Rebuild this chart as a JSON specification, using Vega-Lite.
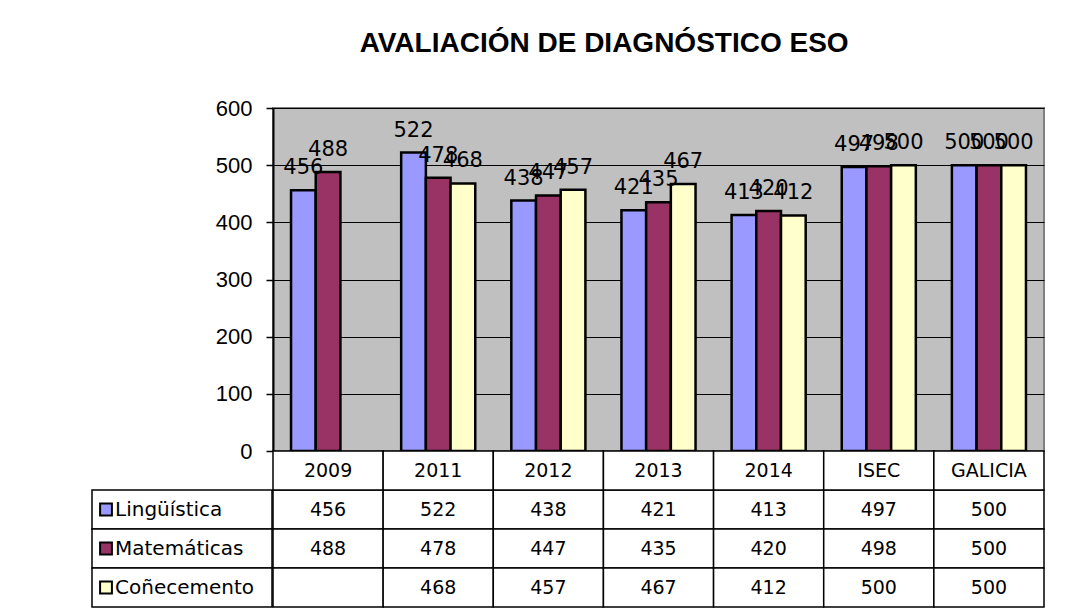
{
  "$schema": "https://vega.github.io/schema/vega-lite/v6.json",
  "padding": {"left": 91, "top": 30, "right": 20, "bottom": 3},
  "background": "white",
  "title": {"text": "AVALIACIÓN DE DIAGNÓSTICO ESO", "font": "Liberation Sans", "fontSize": 28, "fontWeight": "bold", "color": "black", "anchor": "middle", "dx": 36, "offset": 38},
  "config": {"view": {"stroke": null}, "font": "DejaVu Sans"},
  "datasets": {
    "scores": [
      {"cat": "2009", "series": "Lingüística", "value": 456},
      {"cat": "2009", "series": "Matemáticas", "value": 488},
      {"cat": "2009", "series": "Coñecemento", "value": null},
      {"cat": "2011", "series": "Lingüística", "value": 522},
      {"cat": "2011", "series": "Matemáticas", "value": 478},
      {"cat": "2011", "series": "Coñecemento", "value": 468},
      {"cat": "2012", "series": "Lingüística", "value": 438},
      {"cat": "2012", "series": "Matemáticas", "value": 447},
      {"cat": "2012", "series": "Coñecemento", "value": 457},
      {"cat": "2013", "series": "Lingüística", "value": 421},
      {"cat": "2013", "series": "Matemáticas", "value": 435},
      {"cat": "2013", "series": "Coñecemento", "value": 467},
      {"cat": "2014", "series": "Lingüística", "value": 413},
      {"cat": "2014", "series": "Matemáticas", "value": 420},
      {"cat": "2014", "series": "Coñecemento", "value": 412},
      {"cat": "ISEC", "series": "Lingüística", "value": 497},
      {"cat": "ISEC", "series": "Matemáticas", "value": 498},
      {"cat": "ISEC", "series": "Coñecemento", "value": 500},
      {"cat": "GALICIA", "series": "Lingüística", "value": 500},
      {"cat": "GALICIA", "series": "Matemáticas", "value": 500},
      {"cat": "GALICIA", "series": "Coñecemento", "value": 500}
    ],
    "cats": [
      {"cat": "2009"}, {"cat": "2011"}, {"cat": "2012"}, {"cat": "2013"}, {"cat": "2014"}, {"cat": "ISEC"}, {"cat": "GALICIA"}
    ],
    "series": [
      {"series": "Lingüística"}, {"series": "Matemáticas"}, {"series": "Coñecemento"}
    ]
  },
  "spacing": -62,
  "resolve": {"scale": {"x": "independent", "y": "independent"}},
  "hconcat": [
    {
      "spacing": 0,
      "resolve": {"scale": {"x": "independent", "y": "independent"}},
      "vconcat": [
        {"width": 180, "height": 343, "data": {"values": []}, "mark": "point"},
        {
          "width": 180,
          "height": 156,
          "data": {"name": "series"},
          "layer": [
            {"mark": {"type": "rect", "fill": "white", "stroke": "black", "strokeWidth": 1.5},
              "encoding": {"y": {"field": "series", "type": "nominal", "scale": {"domain": ["header", "Lingüística", "Matemáticas", "Coñecemento"], "paddingInner": 0, "paddingOuter": 0}, "axis": null}}},
            {"mark": {"type": "point", "shape": "square", "size": 140, "filled": true, "stroke": "black", "strokeWidth": 2, "opacity": 1, "xOffset": 14},
              "encoding": {
                "x": {"datum": 0, "type": "quantitative", "scale": {"domain": [0, 1]}, "axis": null},
                "y": {"field": "series", "type": "nominal", "scale": {"domain": ["header", "Lingüística", "Matemáticas", "Coñecemento"], "paddingInner": 0, "paddingOuter": 0}, "axis": null},
                "color": {"field": "series", "type": "nominal", "scale": {"domain": ["Lingüística", "Matemáticas", "Coñecemento"], "range": ["#9999ff", "#993366", "#ffffcc"]}, "legend": null}}},
            {"mark": {"type": "text", "align": "left", "dx": 23, "fontSize": 20, "font": "DejaVu Sans", "color": "black"},
              "encoding": {
                "x": {"datum": 0, "type": "quantitative", "scale": {"domain": [0, 1]}, "axis": null},
                "y": {"field": "series", "type": "nominal", "scale": {"domain": ["header", "Lingüística", "Matemáticas", "Coñecemento"], "paddingInner": 0, "paddingOuter": 0}, "axis": null},
                "text": {"field": "series", "type": "nominal"}}}
          ]
        }
      ]
    },
    {
      "spacing": 0,
      "bounds": "flush",
      "resolve": {"scale": {"x": "independent", "y": "independent"}},
      "vconcat": [
        {
          "width": 771,
          "height": 343,
          "view": {"fill": "#c0c0c0", "stroke": "#808080", "strokeWidth": 2},
          "data": {"name": "scores"},
          "transform": [{"filter": {"field": "value", "valid": true}}],
          "encoding": {
            "x": {"field": "cat", "type": "nominal", "scale": {"domain": ["2009", "2011", "2012", "2013", "2014", "ISEC", "GALICIA"], "paddingInner": 0, "paddingOuter": 0}, "axis": null},
            "xOffset": {"field": "series", "type": "nominal", "scale": {"domain": ["Lingüística", "Matemáticas", "Coñecemento"], "paddingInner": 0, "paddingOuter": 0.73}},
            "y": {"field": "value", "type": "quantitative", "scale": {"domain": [0, 600], "nice": false},
              "axis": {"values": [0, 100, 200, 300, 400, 500, 600], "title": null, "grid": true, "gridColor": "black", "gridWidth": 1, "gridOpacity": 1,
                "domainColor": "black", "domainWidth": 2, "tickColor": "black", "tickSize": 7, "tickWidth": 1.5,
                "labelFont": "Liberation Sans", "labelFontSize": 22, "labelColor": "black", "labelPadding": 14,
                "minExtent": 60, "maxExtent": 60}}
          },
          "layer": [
            {"mark": {"type": "bar", "stroke": "black", "strokeWidth": 2.5},
              "encoding": {"color": {"field": "series", "type": "nominal", "scale": {"domain": ["Lingüística", "Matemáticas", "Coñecemento"], "range": ["#9999ff", "#993366", "#ffffcc"]}, "legend": null}}},
            {"mark": {"type": "text", "baseline": "bottom", "dy": -12, "fontSize": 21, "font": "DejaVu Sans", "color": "black"},
              "encoding": {"text": {"field": "value", "type": "quantitative"}}}
          ]
        },
        {
          "width": 771,
          "height": 156,
          "layer": [
            {"data": {"name": "scores"},
              "mark": {"type": "rect", "fill": "white", "stroke": "black", "strokeWidth": 1.5},
              "encoding": {
                "x": {"field": "cat", "type": "nominal", "scale": {"domain": ["2009", "2011", "2012", "2013", "2014", "ISEC", "GALICIA"], "paddingInner": 0, "paddingOuter": 0}, "axis": null},
                "y": {"field": "series", "type": "nominal", "scale": {"domain": ["header", "Lingüística", "Matemáticas", "Coñecemento"], "paddingInner": 0, "paddingOuter": 0}, "axis": null}}},
            {"data": {"name": "cats"},
              "mark": {"type": "rect", "fill": "white", "stroke": "black", "strokeWidth": 1.5},
              "encoding": {
                "x": {"field": "cat", "type": "nominal", "axis": null},
                "y": {"datum": "header", "type": "nominal", "axis": null}}},
            {"data": {"name": "scores"},
              "transform": [{"filter": {"field": "value", "valid": true}}],
              "mark": {"type": "text", "fontSize": 19, "font": "DejaVu Sans", "color": "black"},
              "encoding": {
                "x": {"field": "cat", "type": "nominal", "axis": null},
                "y": {"field": "series", "type": "nominal", "axis": null},
                "text": {"field": "value", "type": "quantitative"}}},
            {"data": {"name": "cats"},
              "mark": {"type": "text", "fontSize": 19, "font": "DejaVu Sans", "color": "black"},
              "encoding": {
                "x": {"field": "cat", "type": "nominal", "axis": null},
                "y": {"datum": "header", "type": "nominal", "axis": null},
                "text": {"field": "cat", "type": "nominal"}}}
          ]
        }
      ]
    }
  ]
}
